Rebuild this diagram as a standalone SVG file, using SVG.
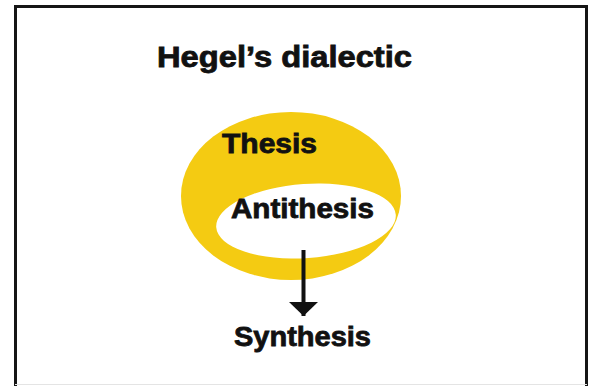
<svg xmlns="http://www.w3.org/2000/svg" width="597" height="386" viewBox="0 0 597 386">
  <style>
    .lbl { font-family: "Liberation Sans", Arial, Helvetica, sans-serif; font-weight: bold; fill: #111; stroke: #111; stroke-width: 0.8; }
  </style>
  <defs>
    <marker id="arrow" viewBox="0 0 14 29" refX="14" refY="14.5" markerWidth="14" markerHeight="29" markerUnits="userSpaceOnUse" orient="auto">
      <path d="M0,0 L14,14.5 L0,29 Z" fill="#111"/>
    </marker>
  </defs>
  <rect width="597" height="386" fill="#ffffff"/>
  <path id="frame" d="M15.5,386 V6.5 H586.5 V386" fill="none" stroke="#151515" stroke-width="3"/>
  <line x1="15" y1="384.5" x2="587" y2="384.5" stroke="#e4e4e4" stroke-width="1"/>
  <text id="title" class="lbl" x="157" y="67" font-size="29" textLength="255" lengthAdjust="spacingAndGlyphs">Hegel’s dialectic</text>
  <g id="thesis">
    <ellipse cx="291" cy="196" rx="110" ry="84" fill="#F4CB12"/>
    <text class="lbl" x="222" y="153" font-size="27" textLength="95" lengthAdjust="spacingAndGlyphs">Thesis</text>
  </g>
  <g id="antithesis">
    <ellipse cx="306" cy="221" rx="90" ry="37" fill="#ffffff" transform="rotate(-4 306 221)"/>
    <text class="lbl" x="231" y="218" font-size="28" textLength="143" lengthAdjust="spacingAndGlyphs">Antithesis</text>
  </g>
  <g id="synthesis">
    <text class="lbl" x="234" y="346" font-size="28" textLength="137" lengthAdjust="spacingAndGlyphs">Synthesis</text>
  </g>
  <g id="connectors">
    <line x1="303.5" y1="250" x2="303.5" y2="316" stroke="#111" stroke-width="4" marker-end="url(#arrow)"/>
  </g>
</svg>
